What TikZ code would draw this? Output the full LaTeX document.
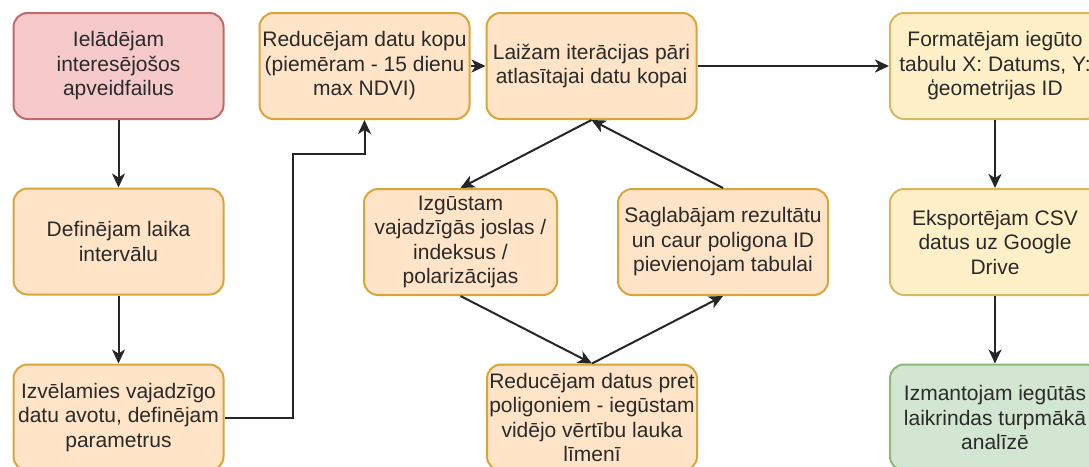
\documentclass[tikz,border=0pt]{standalone}
\usepackage{fontspec}
\setmainfont{Liberation Sans}
\usetikzlibrary{arrows.meta}
\definecolor{ofill}{HTML}{FFE4C8}
\definecolor{odraw}{HTML}{D9A53A}
\definecolor{rfill}{HTML}{F6CACB}
\definecolor{rdraw}{HTML}{C06A6A}
\definecolor{yfill}{HTML}{FFF0C8}
\definecolor{ydraw}{HTML}{D8B85C}
\definecolor{gfill}{HTML}{D3E6D1}
\definecolor{gdraw}{HTML}{8AB87A}
\definecolor{txt}{HTML}{2A2A2A}
\tikzset{
  box/.style={rectangle, rounded corners=14pt, line width=2pt, minimum width=210pt, minimum height=106pt, inner sep=0pt, align=center, text=txt, font=\fontsize{21}{24.5}\selectfont},
  obox/.style={box, fill=ofill, draw=odraw},
  rbox/.style={box, fill=rfill, draw=rdraw},
  ybox/.style={box, fill=yfill, draw=ydraw},
  gbox/.style={box, fill=gfill, draw=gdraw},
  conn/.style={line width=2pt, draw=black!85, -{Stealth[length=14pt,width=13pt,inset=4pt]}}
}
\begin{document}
\begin{tikzpicture}[x=1pt,y=-1pt]
\useasboundingbox (0,0) rectangle (1089,466);
\node[rbox] (n1) at (118.5,66) {Ielādējam\\interesējošos\\apveidfailus};
\node[obox] (n2) at (118.5,241.5) {Definējam laika\\intervālu};
\node[obox] (n3) at (118.5,417.5) {Izvēlamies vajadzīgo\\datu avotu, definējam\\parametrus};
\node[obox] (n4) at (364.5,66) {Reducējam datu kopu\\(piemēram - 15 dienu\\max NDVI)};
\node[obox] (n5) at (591.5,66) {Laižam iterācijas pāri\\atlasītajai datu kopai};
\node[obox, minimum width=193pt] (n6) at (460.5,242) {Izgūstam\\vajadzīgās joslas /\\indeksus /\\polarizācijas};
\node[obox] (n7) at (723,242) {Saglabājam rezultātu\\un caur poligona ID\\pievienojam tabulai};
\node[obox] (n8) at (592,417.5) {Reducējam datus pret\\poligoniem - iegūstam\\vidējo vērtību lauka\\līmenī};
\node[ybox] (n9) at (995,66) {Formatējam iegūto\\tabulu X: Datums, Y:\\ģeometrijas ID};
\node[ybox] (n10) at (995,242) {Eksportējam CSV\\datus uz Google\\Drive};
\node[gbox] (n11) at (995,417.5) {Izmantojam iegūtās\\laikrindas turpmākā\\analīzē};
\coordinate (b1) at (293,154);
\draw[conn] (n1) -- (n2);
\draw[conn] (n2) -- (n3);
\draw[conn] (n3.east) -| (b1) -| (n4.south);
\draw[conn] (n4.east) -- (n5.west);
\draw[conn] (n5.east) -- (n9.west);
\draw[conn] (n5.south) -- (n6.north);
\draw[conn] (n6.south) -- (n8.north);
\draw[conn] (n8.north) -- (n7.south);
\draw[conn] (n7.north) -- (n5.south);
\draw[conn] (n9) -- (n10);
\draw[conn] (n10) -- (n11);
\end{tikzpicture}
\end{document}
